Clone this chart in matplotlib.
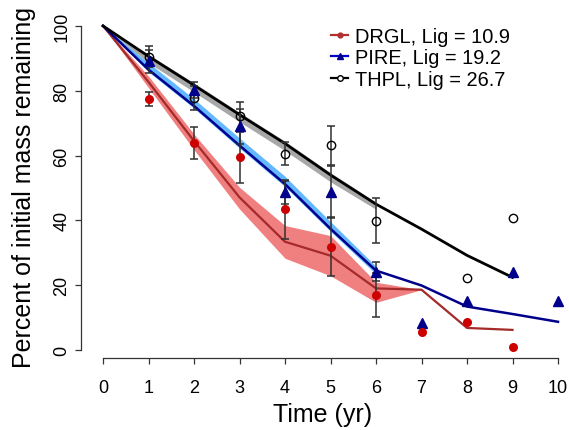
import matplotlib.pyplot as plt
from matplotlib.lines import Line2D

plt.rcParams['font.family'] = ['Liberation Sans', 'DejaVu Sans']

# observed mass remaining (mean and error bar bounds)
years = [0, 1, 2, 3, 4, 5, 6, 7, 8, 9, 10]

drgl_t = [1, 2, 3, 4, 5, 6, 7, 8, 9]
drgl_obs = [77.5, 63.9, 59.4, 43.5, 31.8, 17.0, 5.7, 8.5, 0.9]
drgl_lo = [75.3, 59.0, 51.5, 34.3, 22.8, 10.3, None, None, None]
drgl_hi = [79.7, 68.8, 67.2, 52.6, 41.0, 23.7, None, None, None]

pire_t = [1, 2, 3, 4, 5, 6, 7, 8, 9, 10]
pire_obs = [89.3, 80.2, 69.2, 48.6, 48.7, 24.2, 8.3, 15.2, 24.0, 15.2]
pire_lo = [85.5, 77.8, 63.6, 45.0, 40.7, 21.2, None, None, None, None]
pire_hi = [92.5, 82.6, 74.4, 52.2, 56.9, 27.2, None, None, None, None]

thpl_t = [1, 2, 3, 4, 5, 6, 8, 9]
thpl_obs = [90.5, 77.8, 72.2, 60.4, 63.1, 39.9, 22.1, 40.8]
thpl_lo = [87.2, 74.2, 67.8, 57.2, 57.0, 33.0, None, None]
thpl_hi = [93.8, 81.5, 76.4, 64.1, 69.0, 46.8, None, None]

# model fits with confidence bands
drgl_fit = [100, 82.7, 64.5, 47.1, 33.4, 29.1, 19.0, 18.6, 6.8, 6.2]
drgl_band_lo = [100, 80.9, 61.8, 43.5, 28.3, 22.9, 14.7, 18.6]
drgl_band_hi = [100, 84.5, 66.6, 50.2, 38.4, 35.3, 20.9, 18.6]

pire_fit = [100, 86.5, 75.3, 63.1, 51.2, 37.4, 24.5, 19.9, 13.4, 11.1, 8.7]
pire_band_lo = [100, 85.8, 74.6, 62.3, 50.4, 36.6, 23.4]
pire_band_hi = [100, 88.6, 77.5, 65.4, 53.6, 39.6, 25.8]

thpl_fit = [100, 90.6, 81.7, 72.6, 63.7, 54.0, 45.0, 37.3, 29.2, 22.4]
thpl_band_lo = [100, 88.6, 79.6, 70.4, 61.5, 51.9, 43.4]
thpl_band_hi = [100, 91.2, 82.4, 73.3, 64.4, 54.7, 45.6]

labels = ['DRGL, Lig = 10.9', 'PIRE, Lig = 19.2', 'THPL, Lig = 26.7']

fig = plt.figure(figsize=(5.69, 4.31), dpi=100)
ax = fig.add_axes([0.1424, 0.1664, 0.8506, 0.799])

# confidence bands
ax.fill_between(years[:len(drgl_band_lo)], drgl_band_lo, drgl_band_hi,
                color='#f08080', lw=0, zorder=1)
ax.fill_between(years[:len(pire_band_lo)], pire_band_lo, pire_band_hi,
                color='#63b8ff', lw=0, zorder=1)
ax.fill_between(years[:len(thpl_band_lo)], thpl_band_lo, thpl_band_hi,
                color='#a8a8a8', lw=0, zorder=1)

# fitted lines
ax.plot(years[:len(drgl_fit)], drgl_fit, color='#a52a2a', lw=1.6, zorder=2)
ax.plot(years[:len(pire_fit)], pire_fit, color='#00008b', lw=1.8, zorder=2)
ax.plot(years[:len(thpl_fit)], thpl_fit, color='black', lw=2.0, zorder=2)

# error bars
def bars(t, lo, hi):
    for x, a, b in zip(t, lo, hi):
        if a is None:
            continue
        ax.errorbar([x], [(a + b) / 2], yerr=[[(b - a) / 2], [(b - a) / 2]],
                    fmt='none', ecolor='#303030', elinewidth=1.1,
                    capsize=3, capthick=1.1, zorder=3)

bars(drgl_t, drgl_lo, drgl_hi)
bars(pire_t, pire_lo, pire_hi)
bars(thpl_t, thpl_lo, thpl_hi)

# observed points
ax.plot(thpl_t, thpl_obs, 'o', ms=6, mfc='none', mec='black', mew=1.0, zorder=4)
ax.plot(pire_t, pire_obs, '^', ms=7.5, color='#00008b', zorder=4)
ax.plot(drgl_t, drgl_obs, 'o', ms=6.5, color='#cc0000', mec='none', zorder=4)

ax.set_xlim(-0.4835, 10.154)
ax.set_ylim(-2.56, 103.7)

for s in ['top', 'right']:
    ax.spines[s].set_visible(False)
ax.spines['left'].set_bounds(0, 100)
ax.spines['bottom'].set_bounds(0, 10)
for s in ['left', 'bottom']:
    ax.spines[s].set_color('#333333')
    ax.spines[s].set_linewidth(0.9)

ax.set_xticks(range(0, 11))
ax.set_yticks(range(0, 101, 20))
ax.tick_params(direction='out', length=4.5, width=0.9, color='#333333',
               labelsize=13)
ax.tick_params(axis='x', pad=10.5)
ax.tick_params(axis='y', pad=3)
for lab in ax.get_yticklabels():
    lab.set_rotation(90)
    lab.set_va('center')

ax.set_xlabel('Time (yr)', fontsize=18, labelpad=4)
ax.set_ylabel('Percent of initial mass remaining', fontsize=18, labelpad=13)

handles = [
    Line2D([], [], color='#b03030', lw=1.6, marker='o', ms=3.5, mfc='#b03030', mec='#b03030'),
    Line2D([], [], color='#0000cc', lw=1.6, marker='^', ms=4.5, mfc='#00008b', mec='#00008b'),
    Line2D([], [], color='black', lw=1.6, marker='o', ms=4, mfc='white', mec='black'),
]
ax.legend(handles, labels, loc='upper left', bbox_to_anchor=(0.48, 1.015),
          frameon=False, fontsize=14.4, handlelength=0.85, handletextpad=0.35,
          labelspacing=0.12)

fig.savefig('out.png', dpi=100)
